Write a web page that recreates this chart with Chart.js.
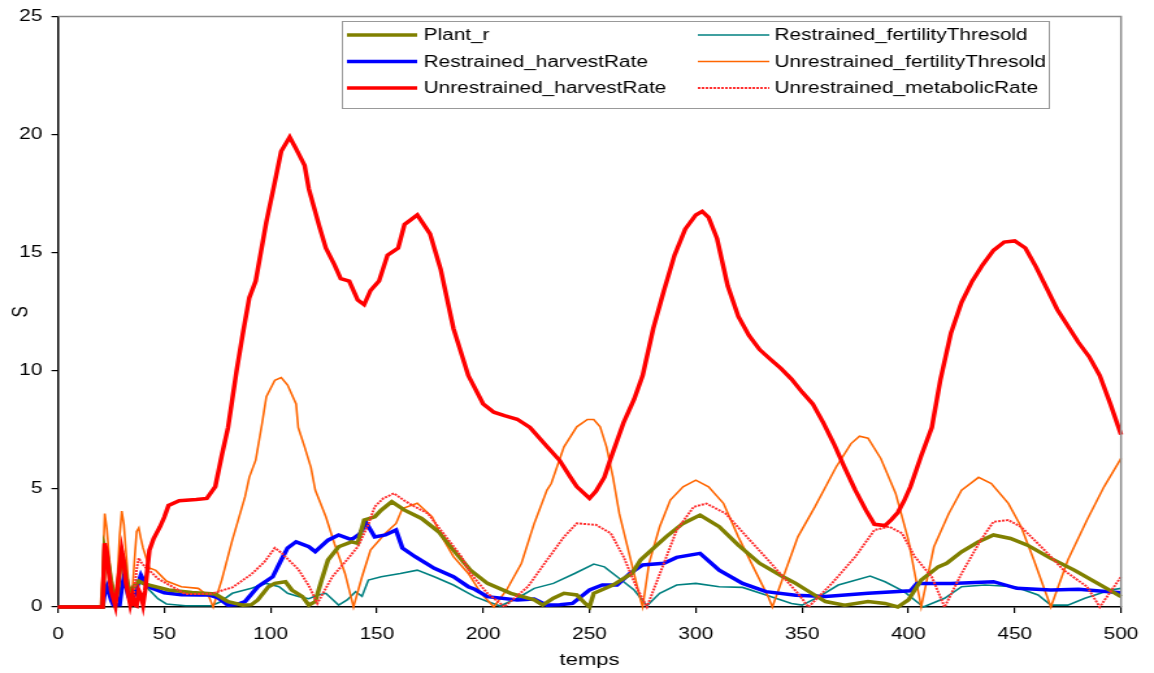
<!DOCTYPE html>
<html>
<head>
<meta charset="utf-8">
<script src="https://cdn.jsdelivr.net/npm/chart.js@4.4.1/dist/chart.umd.min.js"></script>
<style>
  html, body { margin: 0; padding: 0; background: #fff; overflow: hidden; }
  /* the original picture is a chart stretched sideways, so draw narrow and widen */
  #wrap { width: 888px; height: 673px; transform: scaleX(1.2995); transform-origin: 0 0; }
  #c { display: block; }
</style>
</head>
<body>
<div id="wrap"><canvas id="c" width="888" height="673"></canvas></div>
<script>
// Plant_r
const plantT = [0,21,22,23,24,25,26,27,28,29,30,31,32,33,34,35,36,37,38,40,43,52,63,74,80,87,91,94,99,102,107,110,115,118,121,124,127,132,138,141,144,149,152,157,163,171,179,186,194,202,213,224,228,233,238,244,248,250,252,261,270,274,280,286,294,302,311,320,330,341,347,352,361,370,381,389,395,400,406,414,418,425,433,440,448,456,467,478,489,500];
const plantV = [0,0,2.5,2.2,1.7,1.1,0.6,0.3,0.6,1.5,2.2,1.9,1.3,0.9,0.7,0.75,0.9,1.0,1.1,1.0,0.93,0.72,0.61,0.55,0.23,0.08,0.1,0.3,0.86,1.0,1.07,0.72,0.44,0.08,0.23,1.14,1.99,2.55,2.76,2.7,3.68,3.82,4.1,4.46,4.1,3.75,3.19,2.41,1.56,1.0,0.58,0.3,0.08,0.37,0.58,0.51,0.15,0.0,0.58,0.93,1.42,1.99,2.48,2.97,3.54,3.89,3.4,2.62,1.85,1.28,1.0,0.72,0.23,0.08,0.23,0.15,0.0,0.3,1.14,1.7,1.85,2.34,2.76,3.05,2.9,2.62,2.06,1.56,1.0,0.44];

// Restrained_harvestRate
const rhT = [0,21,22,23,24,25,26,29,30,31,32,33,34,35,37,39,41,44,50,58,67,71,75,80,84,88,94,101,105,108,112,118,121,127,132,138,142,145,149,154,159,162,168,177,186,193,196,202,216,224,230,236,242,250,256,263,269,275,285,291,302,311,322,333,347,361,381,401,404,420,440,451,467,480,500];
const rhV = [0,0,0.6,0.86,0.6,0.3,0.1,0.1,0.8,1.25,0.9,0.5,0.3,0.3,0.8,1.35,1.0,0.8,0.6,0.52,0.51,0.51,0.4,0.08,0.1,0.23,0.86,1.28,1.99,2.5,2.76,2.55,2.34,2.83,3.05,2.85,3.1,3.57,2.97,3.05,3.26,2.5,2.13,1.64,1.28,0.86,0.75,0.44,0.3,0.34,0.08,0.1,0.15,0.72,0.93,0.93,1.42,1.78,1.85,2.1,2.27,1.56,1.0,0.65,0.5,0.45,0.58,0.69,1.0,1.0,1.07,0.79,0.72,0.75,0.6];

// Unrestrained_harvestRate
const uhT = [0,21,22,23,24,25,27,29,30,31,32,34,35,36,37,38,39,40,41,43,45,48,50,52,57,65,70,74,77,80,84,87,90,93,98,102,105,109,112,116,118,123,126,130,133,137,141,144,147,151,155,160,163,169,175,180,186,193,200,205,210,216,222,230,236,241,244,250,253,257,260,266,271,275,280,285,290,295,300,303,306,310,315,320,325,330,335,340,345,350,355,360,365,370,375,380,384,389,392,395,398,401,406,411,415,420,425,430,435,440,445,450,455,460,465,470,475,480,485,490,495,500];
const uhV = [0,0,2.7,2.3,1.4,0.7,0.05,1.6,2.4,1.9,1.0,0.1,0.5,0.1,0.05,0.7,0.5,0.1,0.7,2.4,2.9,3.4,3.8,4.3,4.5,4.55,4.6,5.1,6.4,7.6,10.0,11.6,13.1,13.8,16.3,18.0,19.3,19.9,19.4,18.7,17.7,16.1,15.2,14.5,13.9,13.8,13.0,12.8,13.4,13.8,14.9,15.2,16.2,16.6,15.8,14.3,11.8,9.8,8.6,8.25,8.1,7.95,7.6,6.8,6.2,5.5,5.1,4.6,4.9,5.5,6.3,7.8,8.8,9.8,11.8,13.4,14.9,16.0,16.6,16.75,16.5,15.6,13.6,12.3,11.5,10.9,10.5,10.1,9.65,9.1,8.6,7.8,6.9,5.9,4.95,4.1,3.5,3.45,3.7,4.0,4.5,5.1,6.4,7.6,9.6,11.6,12.9,13.8,14.5,15.1,15.45,15.5,15.2,14.4,13.5,12.6,11.9,11.2,10.6,9.8,8.6,7.3];

// Restrained_fertilityThresold
const rfT = [0,21,22,23,24,25,26,27,29,30,31,32,33,34,36,38,40,43,47,51,60,72,76,82,91,98,104,108,113,118,122,126,132,136,140,143,146,152,161,169,177,186,196,202,208,216,224,233,243,252,257,263,271,277,283,291,300,311,322,333,345,350,358,367,382,389,398,405,407,417,425,436,450,461,467,475,483,495,500];
const rfV = [0,0,2.3,2.0,1.4,0.8,0.4,0.2,1.3,2.0,1.6,1.0,0.6,0.5,0.8,1.14,1.0,0.72,0.35,0.13,0.05,0.05,0.2,0.58,0.79,1.0,0.86,0.58,0.44,0.35,0.5,0.58,0.08,0.3,0.65,0.45,1.14,1.28,1.42,1.56,1.28,0.93,0.44,0.23,0.04,0.37,0.79,1.0,1.42,1.82,1.7,1.28,0.72,0.05,0.58,0.93,1.0,0.86,0.83,0.51,0.15,0.08,0.44,0.93,1.31,1.07,0.65,0.15,0.0,0.37,0.86,0.93,0.86,0.51,0.08,0.08,0.37,0.72,0.79];

// Unrestrained_fertilityThresold
const ufT = [0,20,21,22,23,24,25,26,27,28,29,30,31,32,33,34,35,36,37,38,39,40,43,46,51,58,66,71,73,77,82,88,90,93,96,98,102,105,108,112,113,116,119,121,126,130,135,139,143,147,154,159,162,169,176,180,186,193,199,205,211,218,224,230,232,238,244,249,252,255,258,261,264,269,274,275,278,283,288,294,300,306,313,320,327,334,336,348,356,366,373,377,381,387,394,400,406,412,419,425,433,439,447,453,459,467,475,484,492,500];
const ufV = [0,0,1.5,3.96,3.3,2.2,1.3,0.8,0.5,1.3,3.0,4.06,3.5,2.3,1.2,0.5,0.7,2.0,3.2,3.35,2.9,2.5,1.65,1.55,1.1,0.86,0.79,0.44,0,1.14,2.83,4.67,5.5,6.22,7.77,8.9,9.6,9.72,9.4,8.6,7.6,6.78,5.9,4.95,3.82,2.69,1.42,0,1.28,2.41,3.12,3.54,4.17,4.39,3.82,3.05,2.13,1.42,0.58,0,0.72,1.85,3.54,4.95,5.23,6.78,7.63,7.94,7.94,7.63,6.78,5.51,3.96,2.13,0.3,0,1.85,3.4,4.53,5.09,5.37,5.09,4.39,2.97,1.7,0.44,0,2.97,4.24,5.93,6.92,7.23,7.15,6.29,4.81,2.83,0,2.55,3.96,4.95,5.49,5.23,4.39,3.4,1.99,0,1.99,3.68,5.09,6.29];

// Unrestrained_metabolicRate
const umT = [0,21,22,23,24,25,26,27,28,29,30,31,32,33,34,35,36,37,38,39,41,43,47,51,60,72,82,91,97,102,105,113,118,122,129,135,141,146,149,153,158,163,168,174,180,185,190,194,202,210,221,230,238,244,253,260,266,272,277,285,291,299,305,314,324,334,341,348,353,364,375,384,391,397,403,411,417,425,434,440,447,453,464,473,484,490,500];
const umV = [0,0,2.7,2.4,1.7,1.0,0.4,0.05,0.8,1.8,2.5,2.1,1.4,0.7,0.2,0.05,0.8,1.6,2.07,1.9,1.7,1.55,1.2,1.0,0.55,0.56,0.83,1.39,1.9,2.5,2.3,1.6,0.9,0.15,1.28,1.9,2.55,3.5,4.25,4.6,4.81,4.5,4.24,3.96,3.26,2.69,2.1,1.42,0.58,0.01,0.86,1.99,2.97,3.54,3.48,3.12,2.13,0.86,0,1.85,3.26,4.24,4.38,3.96,2.97,1.99,1.28,0.58,0,1.0,2.13,3.26,3.4,3.12,2.13,1.27,0,1.42,2.83,3.61,3.68,3.39,2.41,1.56,0.86,0,1.28];

const FONT = "'Liberation Sans', Arial, sans-serif";

const pts = (ts, vs) => ts.map((t, i) => ({ x: t, y: vs[i] }));

// legend is left column top to bottom, then right column
const datasets = [
  { label: 'Plant_r', data: pts(plantT, plantV), borderColor: '#808000', borderWidth: 3.5, order: 2 },
  { label: 'Restrained_harvestRate', data: pts(rhT, rhV), borderColor: '#0000FF', borderWidth: 3.5, order: 3 },
  { label: 'Unrestrained_harvestRate', data: pts(uhT, uhV), borderColor: '#FF0000', borderWidth: 3.5, order: 0 },
  { label: 'Restrained_fertilityThresold', data: pts(rfT, rfV), borderColor: '#008080', borderWidth: 1.6, order: 5 },
  { label: 'Unrestrained_fertilityThresold', data: pts(ufT, ufV), borderColor: '#FF6600', borderWidth: 1.6, order: 4 },
  { label: 'Unrestrained_metabolicRate', data: pts(umT, umV), borderColor: '#FF3030', borderWidth: 2, borderDash: [2, 1], order: 1 }
];
datasets.forEach(d => {
  d.pointRadius = 0;
  d.tension = 0;
  d.fill = false;
  d.clip = false;
});

const frame = {
  id: 'frame',
  afterDatasetsDraw(chart) {
    const { ctx, chartArea: a } = chart;
    ctx.save();
    ctx.strokeStyle = '#8c8c8c';
    ctx.lineWidth = 1.5;
    ctx.beginPath();
    ctx.moveTo(a.left, a.top);
    ctx.lineTo(a.right, a.top);
    ctx.lineTo(a.right, a.bottom);
    ctx.stroke();
    ctx.restore();
  }
};

const legendBox = {
  id: 'legendBox',
  afterDraw(chart) {
    const ctx = chart.ctx;
    ctx.save();
    ctx.fillStyle = '#fff';
    ctx.fillRect(263, 21, 544, 87);
    ctx.strokeStyle = '#999';
    ctx.lineWidth = 1;
    ctx.strokeRect(263.5, 21.5, 544, 87);
    ctx.font = '16px ' + FONT;
    ctx.textBaseline = 'middle';
    chart.data.datasets.forEach((ds, i) => {
      const col = Math.floor(i / 3), row = i % 3;
      const y = 35 + row * 26.5;
      const x0 = col ? 537 : 267, x1 = col ? 592 : 321;
      ctx.strokeStyle = ds.borderColor;
      ctx.lineWidth = ds.borderWidth;
      ctx.setLineDash(ds.borderDash || []);
      ctx.beginPath();
      ctx.moveTo(x0, y);
      ctx.lineTo(x1, y);
      ctx.stroke();
      ctx.setLineDash([]);
      ctx.fillStyle = '#000';
      ctx.fillText(ds.label, col ? 596 : 326, y + 1);
    });
    ctx.restore();
  }
};

new Chart(document.getElementById('c'), {
  type: 'line',
  data: { datasets },
  options: {
    responsive: false,
    animation: false,
    layout: { padding: { top: 16, right: 20.4, bottom: 0, left: 0 } },
    plugins: { legend: { display: false }, tooltip: { enabled: false } },
    scales: {
      x: {
        type: 'linear',
        min: 0,
        max: 500,
        afterFit: s => { s.height = 66; },
        ticks: { stepSize: 50, color: '#000', font: { family: FONT, size: 16 }, padding: 12, maxRotation: 0 },
        grid: { drawOnChartArea: false, tickLength: 6, color: '#000', lineWidth: 1.2 },
        border: { color: '#000', width: 1.5 },
        title: { display: true, text: 'temps', color: '#000', font: { family: FONT, size: 17 }, padding: { top: 0, bottom: 2 } }
      },
      y: {
        min: 0,
        max: 25,
        afterFit: s => { s.width = 44.6; },
        ticks: { stepSize: 5, color: '#000', font: { family: FONT, size: 16 }, padding: 7 },
        grid: { drawOnChartArea: false, tickLength: 5, color: '#000', lineWidth: 1.2 },
        border: { color: '#000', width: 1.5 },
        title: { display: true, text: 'S', color: '#000', font: { family: FONT, size: 17 }, padding: { top: 6, bottom: 0 } }
      }
    }
  },
  plugins: [frame, legendBox]
});
</script>
</body>
</html>
